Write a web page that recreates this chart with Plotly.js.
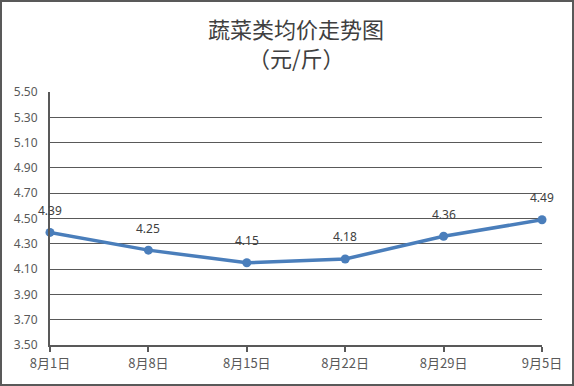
<!DOCTYPE html>
<html><head><meta charset="utf-8">
<script src="https://cdn.plot.ly/plotly-3.0.1.min.js"></script>
<style>
html,body{margin:0;padding:0;background:#fff;}
#wrap{position:relative;width:574px;height:386px;}
#chart{width:574px;height:386px;}
#frame{position:absolute;left:0;top:0;width:574px;height:386px;box-sizing:border-box;border:2px solid #595959;pointer-events:none;}
</style></head>
<body>
<div id="wrap"><div id="chart"></div><div id="frame"></div></div>
<script>
var categories = ["8月1日","8月8日","8月15日","8月22日","8月29日","9月5日"];
var prices = [4.39, 4.25, 4.15, 4.18, 4.36, 4.49];
var yTicks = [3.5,3.7,3.9,4.1,4.3,4.5,4.7,4.9,5.1,5.3,5.5];
var titleLines = ["蔬菜类均价走势图", "（元/斤）"];

var xIdx = categories.map(function(_, i){ return i; });
var trace = {
  x: xIdx, y: prices, type: 'scatter', mode: 'lines+markers',
  line: {color: '#4a7ebb', width: 3.5},
  marker: {color: '#4a7ebb', size: 9},
  cliponaxis: false, hoverinfo: 'none'
};
var anns = prices.map(function(v, i){
  return {x: xIdx[i], y: v, xref: 'x', yref: 'y', text: v.toFixed(2), showarrow: false,
    yshift: 22, xanchor: 'center', yanchor: 'middle',
    font: {family: 'Noto Sans, sans-serif', size: 12, color: '#404040'}};
});
anns.push({xref: 'paper', yref: 'paper', x: 0.5, y: 1, yshift: 92 - 28, text: titleLines[0], showarrow: false,
  xanchor: 'center', yanchor: 'middle', font: {family: 'Noto Sans CJK SC, sans-serif', size: 22, color: '#404040'}});
anns.push({xref: 'paper', yref: 'paper', x: 0.5, y: 1, yshift: 92 - 57, text: titleLines[1], showarrow: false,
  xanchor: 'center', yanchor: 'middle', font: {family: 'Noto Sans CJK SC, sans-serif', size: 22, color: '#404040'}});

var layout = {
  width: 574, height: 386,
  margin: {l: 50, r: 32, t: 92, b: 41},
  paper_bgcolor: '#fff', plot_bgcolor: '#fff',
  showlegend: false,
  annotations: anns,
  xaxis: {range: [0, 5], tickvals: xIdx, ticktext: categories, showgrid: false, zeroline: false,
    showline: true, linecolor: '#595959', linewidth: 2, ticks: 'outside', ticklen: 5, tickwidth: 2, tickcolor: '#595959',
    tickfont: {family: 'Noto Sans CJK SC, sans-serif', size: 13, color: '#595959'}},
  yaxis: {range: [3.5, 5.5], tickvals: yTicks, tickformat: '.2f', showgrid: true, gridcolor: '#595959', gridwidth: 1,
    zeroline: false, showline: true, linecolor: '#595959', linewidth: 2, ticks: '',
    tickfont: {family: 'Noto Sans, sans-serif', size: 12, color: '#595959'}, ticklabelstandoff: 8}
};
Plotly.newPlot('chart', [trace], layout, {displayModeBar: false, staticPlot: true});
</script>
</body></html>
